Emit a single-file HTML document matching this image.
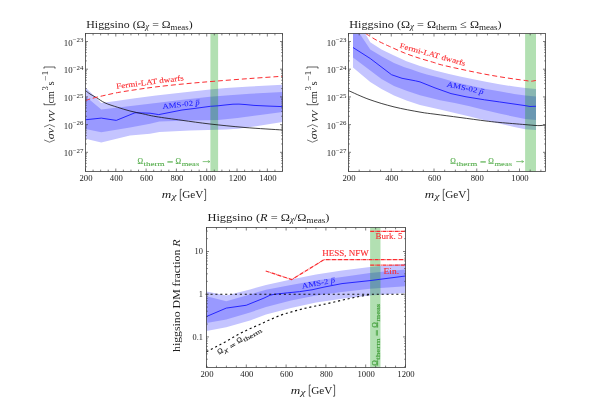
<!DOCTYPE html>
<html><head><meta charset="utf-8"><title>Higgsino plots</title>
<style>
html,body{margin:0;padding:0;background:#fff;}
body{width:607px;height:400px;overflow:hidden;font-family:"Liberation Serif",serif;}
svg{display:block;will-change:transform;}
svg text{font-family:"Liberation Serif",serif;}
</style></head>
<body>
<svg width="607" height="400" viewBox="0 0 607 400">
<rect width="607" height="400" fill="#fff"/>
<polygon points="85.50,87.50 101.25,102.90 116.00,100.90 135.00,98.30 156.00,95.60 185.00,92.20 210.00,89.40 226.00,88.10 250.00,86.60 282.50,84.75 282.50,121.90 256.00,126.25 237.50,128.75 226.00,129.40 190.00,130.60 159.40,131.90 150.00,133.75 130.00,135.60 101.25,142.50 85.50,138.75" fill="#c4c4ff"/>
<polygon points="85.50,96.25 101.25,109.60 116.00,107.80 135.00,105.40 156.00,103.10 185.00,99.60 210.00,96.80 226.00,95.60 250.00,93.80 282.50,91.90 282.50,112.00 260.00,115.00 237.50,118.00 218.00,120.00 190.00,120.50 159.40,121.40 150.00,123.75 130.00,127.50 101.25,132.25 85.50,129.00" fill="#9999ff"/>
<rect x="210.4" y="33.5" width="7.7" height="138.0" fill="rgba(0,153,0,0.3)"/>
<polyline points="85.50,119.75 101.25,118.10 116.25,120.40 135.00,112.75 150.00,113.20 158.75,114.60 182.00,110.00 194.00,108.50 210.50,106.30 218.00,105.80 226.00,104.90 233.00,104.20 239.00,104.10 246.00,104.60 254.00,105.40 269.00,106.10 282.50,106.60" fill="none" stroke="#1818ff" stroke-width="0.9" stroke-linejoin="round"/>
<path d="M85.50,90.60 C86.25,91.17 88.21,92.85 90.00,94.00 C91.79,95.15 93.75,96.02 96.25,97.50 C98.75,98.98 101.46,101.28 105.00,102.90 C108.54,104.53 113.33,105.90 117.50,107.25 C121.67,108.60 125.83,109.92 130.00,111.00 C134.17,112.08 138.17,112.82 142.50,113.75 C146.83,114.68 149.42,115.51 156.00,116.60 C162.58,117.69 173.00,119.07 182.00,120.30 C191.00,121.53 199.50,122.80 210.00,124.00 C220.50,125.20 232.92,126.50 245.00,127.50 C257.08,128.50 276.25,129.58 282.50,130.00" fill="none" stroke="#111" stroke-width="0.8" />
<path d="M85.50,100.60 C86.25,100.33 88.21,99.55 90.00,99.00 C91.79,98.45 93.75,97.92 96.25,97.30 C98.75,96.68 101.46,96.08 105.00,95.30 C108.54,94.52 112.50,93.52 117.50,92.60 C122.50,91.68 128.58,90.75 135.00,89.80 C141.42,88.85 147.67,87.90 156.00,86.90 C164.33,85.90 175.17,84.75 185.00,83.80 C194.83,82.85 204.17,82.08 215.00,81.20 C225.83,80.32 238.75,79.33 250.00,78.50 C261.25,77.67 277.08,76.62 282.50,76.25" fill="none" stroke="#fb2c30" stroke-width="1.0" stroke-dasharray="5,2.9" />
<rect x="85.5" y="33.5" width="197.0" height="138.0" fill="none" stroke="#404040" stroke-width="0.8"/>
<path d="M85.50,171.5v-3.0M85.50,33.5v3.0" stroke="#3a3a3a" stroke-width="0.65"/><path d="M93.08,171.5v-1.9M93.08,33.5v1.9" stroke="#3a3a3a" stroke-width="0.65"/><path d="M100.65,171.5v-1.9M100.65,33.5v1.9" stroke="#3a3a3a" stroke-width="0.65"/><path d="M108.23,171.5v-1.9M108.23,33.5v1.9" stroke="#3a3a3a" stroke-width="0.65"/><path d="M115.81,171.5v-3.0M115.81,33.5v3.0" stroke="#3a3a3a" stroke-width="0.65"/><path d="M123.39,171.5v-1.9M123.39,33.5v1.9" stroke="#3a3a3a" stroke-width="0.65"/><path d="M130.96,171.5v-1.9M130.96,33.5v1.9" stroke="#3a3a3a" stroke-width="0.65"/><path d="M138.54,171.5v-1.9M138.54,33.5v1.9" stroke="#3a3a3a" stroke-width="0.65"/><path d="M146.12,171.5v-3.0M146.12,33.5v3.0" stroke="#3a3a3a" stroke-width="0.65"/><path d="M153.69,171.5v-1.9M153.69,33.5v1.9" stroke="#3a3a3a" stroke-width="0.65"/><path d="M161.27,171.5v-1.9M161.27,33.5v1.9" stroke="#3a3a3a" stroke-width="0.65"/><path d="M168.85,171.5v-1.9M168.85,33.5v1.9" stroke="#3a3a3a" stroke-width="0.65"/><path d="M176.42,171.5v-3.0M176.42,33.5v3.0" stroke="#3a3a3a" stroke-width="0.65"/><path d="M184.00,171.5v-1.9M184.00,33.5v1.9" stroke="#3a3a3a" stroke-width="0.65"/><path d="M191.58,171.5v-1.9M191.58,33.5v1.9" stroke="#3a3a3a" stroke-width="0.65"/><path d="M199.16,171.5v-1.9M199.16,33.5v1.9" stroke="#3a3a3a" stroke-width="0.65"/><path d="M206.73,171.5v-3.0M206.73,33.5v3.0" stroke="#3a3a3a" stroke-width="0.65"/><path d="M214.31,171.5v-1.9M214.31,33.5v1.9" stroke="#3a3a3a" stroke-width="0.65"/><path d="M221.89,171.5v-1.9M221.89,33.5v1.9" stroke="#3a3a3a" stroke-width="0.65"/><path d="M229.46,171.5v-1.9M229.46,33.5v1.9" stroke="#3a3a3a" stroke-width="0.65"/><path d="M237.04,171.5v-3.0M237.04,33.5v3.0" stroke="#3a3a3a" stroke-width="0.65"/><path d="M244.62,171.5v-1.9M244.62,33.5v1.9" stroke="#3a3a3a" stroke-width="0.65"/><path d="M252.19,171.5v-1.9M252.19,33.5v1.9" stroke="#3a3a3a" stroke-width="0.65"/><path d="M259.77,171.5v-1.9M259.77,33.5v1.9" stroke="#3a3a3a" stroke-width="0.65"/><path d="M267.35,171.5v-3.0M267.35,33.5v3.0" stroke="#3a3a3a" stroke-width="0.65"/><path d="M274.93,171.5v-1.9M274.93,33.5v1.9" stroke="#3a3a3a" stroke-width="0.65"/><path d="M282.50,171.5v-1.9M282.50,33.5v1.9" stroke="#3a3a3a" stroke-width="0.65"/>
<path d="M85.5,166.78h1.3M282.5,166.78h-1.3" stroke="#3a3a3a" stroke-width="0.65"/><path d="M85.5,163.32h1.3M282.5,163.32h-1.3" stroke="#3a3a3a" stroke-width="0.65"/><path d="M85.5,160.64h1.3M282.5,160.64h-1.3" stroke="#3a3a3a" stroke-width="0.65"/><path d="M85.5,158.45h1.3M282.5,158.45h-1.3" stroke="#3a3a3a" stroke-width="0.65"/><path d="M85.5,156.59h1.3M282.5,156.59h-1.3" stroke="#3a3a3a" stroke-width="0.65"/><path d="M85.5,154.98h1.3M282.5,154.98h-1.3" stroke="#3a3a3a" stroke-width="0.65"/><path d="M85.5,153.57h1.3M282.5,153.57h-1.3" stroke="#3a3a3a" stroke-width="0.65"/><path d="M85.5,152.30h2.5M282.5,152.30h-2.5" stroke="#3a3a3a" stroke-width="0.65"/><path d="M85.5,143.96h1.3M282.5,143.96h-1.3" stroke="#3a3a3a" stroke-width="0.65"/><path d="M85.5,139.08h1.3M282.5,139.08h-1.3" stroke="#3a3a3a" stroke-width="0.65"/><path d="M85.5,135.62h1.3M282.5,135.62h-1.3" stroke="#3a3a3a" stroke-width="0.65"/><path d="M85.5,132.94h1.3M282.5,132.94h-1.3" stroke="#3a3a3a" stroke-width="0.65"/><path d="M85.5,130.75h1.3M282.5,130.75h-1.3" stroke="#3a3a3a" stroke-width="0.65"/><path d="M85.5,128.89h1.3M282.5,128.89h-1.3" stroke="#3a3a3a" stroke-width="0.65"/><path d="M85.5,127.28h1.3M282.5,127.28h-1.3" stroke="#3a3a3a" stroke-width="0.65"/><path d="M85.5,125.87h1.3M282.5,125.87h-1.3" stroke="#3a3a3a" stroke-width="0.65"/><path d="M85.5,124.60h2.5M282.5,124.60h-2.5" stroke="#3a3a3a" stroke-width="0.65"/><path d="M85.5,116.26h1.3M282.5,116.26h-1.3" stroke="#3a3a3a" stroke-width="0.65"/><path d="M85.5,111.38h1.3M282.5,111.38h-1.3" stroke="#3a3a3a" stroke-width="0.65"/><path d="M85.5,107.92h1.3M282.5,107.92h-1.3" stroke="#3a3a3a" stroke-width="0.65"/><path d="M85.5,105.24h1.3M282.5,105.24h-1.3" stroke="#3a3a3a" stroke-width="0.65"/><path d="M85.5,103.05h1.3M282.5,103.05h-1.3" stroke="#3a3a3a" stroke-width="0.65"/><path d="M85.5,101.19h1.3M282.5,101.19h-1.3" stroke="#3a3a3a" stroke-width="0.65"/><path d="M85.5,99.58h1.3M282.5,99.58h-1.3" stroke="#3a3a3a" stroke-width="0.65"/><path d="M85.5,98.17h1.3M282.5,98.17h-1.3" stroke="#3a3a3a" stroke-width="0.65"/><path d="M85.5,96.90h2.5M282.5,96.90h-2.5" stroke="#3a3a3a" stroke-width="0.65"/><path d="M85.5,88.56h1.3M282.5,88.56h-1.3" stroke="#3a3a3a" stroke-width="0.65"/><path d="M85.5,83.68h1.3M282.5,83.68h-1.3" stroke="#3a3a3a" stroke-width="0.65"/><path d="M85.5,80.22h1.3M282.5,80.22h-1.3" stroke="#3a3a3a" stroke-width="0.65"/><path d="M85.5,77.54h1.3M282.5,77.54h-1.3" stroke="#3a3a3a" stroke-width="0.65"/><path d="M85.5,75.35h1.3M282.5,75.35h-1.3" stroke="#3a3a3a" stroke-width="0.65"/><path d="M85.5,73.49h1.3M282.5,73.49h-1.3" stroke="#3a3a3a" stroke-width="0.65"/><path d="M85.5,71.88h1.3M282.5,71.88h-1.3" stroke="#3a3a3a" stroke-width="0.65"/><path d="M85.5,70.47h1.3M282.5,70.47h-1.3" stroke="#3a3a3a" stroke-width="0.65"/><path d="M85.5,69.20h2.5M282.5,69.20h-2.5" stroke="#3a3a3a" stroke-width="0.65"/><path d="M85.5,60.86h1.3M282.5,60.86h-1.3" stroke="#3a3a3a" stroke-width="0.65"/><path d="M85.5,55.98h1.3M282.5,55.98h-1.3" stroke="#3a3a3a" stroke-width="0.65"/><path d="M85.5,52.52h1.3M282.5,52.52h-1.3" stroke="#3a3a3a" stroke-width="0.65"/><path d="M85.5,49.84h1.3M282.5,49.84h-1.3" stroke="#3a3a3a" stroke-width="0.65"/><path d="M85.5,47.65h1.3M282.5,47.65h-1.3" stroke="#3a3a3a" stroke-width="0.65"/><path d="M85.5,45.79h1.3M282.5,45.79h-1.3" stroke="#3a3a3a" stroke-width="0.65"/><path d="M85.5,44.18h1.3M282.5,44.18h-1.3" stroke="#3a3a3a" stroke-width="0.65"/><path d="M85.5,42.77h1.3M282.5,42.77h-1.3" stroke="#3a3a3a" stroke-width="0.65"/><path d="M85.5,41.50h2.5M282.5,41.50h-2.5" stroke="#3a3a3a" stroke-width="0.65"/>
<text x="79.5" y="180.9" font-size="8.4" text-anchor="start" fill="#1c1c1c" textLength="12.99" lengthAdjust="spacingAndGlyphs">200</text>
<text x="109.81" y="180.9" font-size="8.4" text-anchor="start" fill="#1c1c1c" textLength="12.99" lengthAdjust="spacingAndGlyphs">400</text>
<text x="140.12" y="180.9" font-size="8.4" text-anchor="start" fill="#1c1c1c" textLength="12.99" lengthAdjust="spacingAndGlyphs">600</text>
<text x="170.43" y="180.9" font-size="8.4" text-anchor="start" fill="#1c1c1c" textLength="12.99" lengthAdjust="spacingAndGlyphs">800</text>
<text x="198.57" y="180.9" font-size="8.4" text-anchor="start" fill="#1c1c1c" textLength="17.32" lengthAdjust="spacingAndGlyphs">1000</text>
<text x="228.88" y="180.9" font-size="8.4" text-anchor="start" fill="#1c1c1c" textLength="17.32" lengthAdjust="spacingAndGlyphs">1200</text>
<text x="259.19" y="180.9" font-size="8.4" text-anchor="start" fill="#1c1c1c" textLength="17.32" lengthAdjust="spacingAndGlyphs">1400</text>
<text x="63.8" y="45.6" font-size="8.4" text-anchor="start" fill="#1c1c1c" textLength="19.6" lengthAdjust="spacingAndGlyphs">10<tspan dy="-3.3" font-size="6.5">&#8722;23</tspan><tspan dy="3.3" font-size="1">&#8203;</tspan></text><text x="63.8" y="73.3" font-size="8.4" text-anchor="start" fill="#1c1c1c" textLength="19.6" lengthAdjust="spacingAndGlyphs">10<tspan dy="-3.3" font-size="6.5">&#8722;24</tspan><tspan dy="3.3" font-size="1">&#8203;</tspan></text><text x="63.8" y="101.0" font-size="8.4" text-anchor="start" fill="#1c1c1c" textLength="19.6" lengthAdjust="spacingAndGlyphs">10<tspan dy="-3.3" font-size="6.5">&#8722;25</tspan><tspan dy="3.3" font-size="1">&#8203;</tspan></text><text x="63.8" y="128.7" font-size="8.4" text-anchor="start" fill="#1c1c1c" textLength="19.6" lengthAdjust="spacingAndGlyphs">10<tspan dy="-3.3" font-size="6.5">&#8722;26</tspan><tspan dy="3.3" font-size="1">&#8203;</tspan></text><text x="63.8" y="156.4" font-size="8.4" text-anchor="start" fill="#1c1c1c" textLength="19.6" lengthAdjust="spacingAndGlyphs">10<tspan dy="-3.3" font-size="6.5">&#8722;27</tspan><tspan dy="3.3" font-size="1">&#8203;</tspan></text><g transform="translate(53.5,142.6) rotate(-90)"><polyline points="2.7,-9.4 0.4,-4.0 2.7,1.4" fill="none" stroke="#1c1c1c" stroke-width="0.6"/><text x="3.4" y="0" font-size="10.8" text-anchor="start" fill="#1c1c1c" textLength="11.3" lengthAdjust="spacingAndGlyphs"><tspan font-style="italic">&#963;v</tspan></text><polyline points="15.7,-9.4 18.0,-4.0 15.7,1.4" fill="none" stroke="#1c1c1c" stroke-width="0.6"/><text x="20.3" y="1.1" font-size="7.4" text-anchor="start" fill="#1c1c1c" textLength="11.8" lengthAdjust="spacingAndGlyphs"><tspan font-style="italic">VV</tspan></text><path d="M39.6,-9.5H37.9V1.5H39.6" fill="none" stroke="#1c1c1c" stroke-width="0.7"/><text x="39.2" y="0" font-size="10.8" text-anchor="start" fill="#1c1c1c" textLength="12.3" lengthAdjust="spacingAndGlyphs">cm</text><text x="52.2" y="-5.2" font-size="7.8" text-anchor="start" fill="#1c1c1c" textLength="4.3" lengthAdjust="spacingAndGlyphs">3</text><text x="57.2" y="0" font-size="10.8" text-anchor="start" fill="#1c1c1c" textLength="4.1" lengthAdjust="spacingAndGlyphs">s</text><text x="61.7" y="-5.2" font-size="7.8" text-anchor="start" fill="#1c1c1c" textLength="10.2" lengthAdjust="spacingAndGlyphs">&#8722;1</text><path d="M73.9,-9.5H75.6V1.5H73.9" fill="none" stroke="#1c1c1c" stroke-width="0.7"/></g>
<g transform="translate(162.1,198.1)"><text x="-0.3" y="0" font-size="11" text-anchor="start" fill="#1c1c1c" textLength="9.5" lengthAdjust="spacingAndGlyphs"><tspan font-style="italic">m</tspan></text><text x="9.4" y="1.0" font-size="8.0" text-anchor="start" fill="#1c1c1c" textLength="5.0" lengthAdjust="spacingAndGlyphs"><tspan font-style="italic">&#967;</tspan></text><path d="M19.8,-8.8H18.2V2.4H19.8" fill="none" stroke="#1c1c1c" stroke-width="0.7"/><text x="20.1" y="0" font-size="11" text-anchor="start" fill="#1c1c1c" textLength="21.2" lengthAdjust="spacingAndGlyphs">GeV</text><path d="M41.9,-8.8H43.5V2.4H41.9" fill="none" stroke="#1c1c1c" stroke-width="0.7"/></g>
<text x="86.3" y="27.8" font-size="10.8" text-anchor="start" fill="#1c1c1c" textLength="106.3" lengthAdjust="spacingAndGlyphs">Higgsino (&#937;<tspan dy="0.9" font-size="8.0"><tspan font-style="italic">&#967;</tspan></tspan><tspan dy="-0.9" font-size="1">&#8203;</tspan> = &#937;<tspan dy="1.9" font-size="8.0">meas</tspan><tspan dy="-1.9" font-size="1">&#8203;</tspan>)</text>
<g transform="translate(137.7,163.7) rotate(0) scale(1.0)"><text x="-0.3" y="0" font-size="7.6" text-anchor="start" fill="#55ad4b" textLength="5.6" lengthAdjust="spacingAndGlyphs" stroke="#55ad4b" stroke-width="0.12">&#937;</text><text x="5.7" y="1.9" font-size="5.7" text-anchor="start" fill="#55ad4b" textLength="21.2" lengthAdjust="spacingAndGlyphs" stroke="#55ad4b" stroke-width="0.05">therm</text><text x="29.4" y="1.3" font-size="7.4" text-anchor="start" fill="#55ad4b" textLength="6.2" lengthAdjust="spacingAndGlyphs" stroke="#55ad4b" stroke-width="0.12">=</text><text x="37.7" y="0" font-size="7.6" text-anchor="start" fill="#55ad4b" textLength="5.6" lengthAdjust="spacingAndGlyphs" stroke="#55ad4b" stroke-width="0.12">&#937;</text><text x="44.0" y="1.9" font-size="5.7" text-anchor="start" fill="#55ad4b" textLength="17.5" lengthAdjust="spacingAndGlyphs" stroke="#55ad4b" stroke-width="0.05">meas</text></g>
<path d="M202.7,161.6H209.7" stroke="#55ad4b" stroke-width="0.7" fill="none"/><path d="M208.0,160.1Q208.6,161.29999999999998 210.0,161.6Q208.6,161.9 208.0,163.1" stroke="#55ad4b" stroke-width="0.6" fill="none"/>
<g transform="translate(162.8,109.0) rotate(-6.5)"><text x="0" y="0" font-size="7.5" text-anchor="start" fill="#1818ff" textLength="37.2" lengthAdjust="spacingAndGlyphs" stroke="#1818ff" stroke-width="0.05">AMS-02 <tspan font-style="italic">p</tspan></text><path d="M33.900000000000006,-4.8H37.5" stroke="#1818ff" stroke-width="0.55" fill="none"/></g>
<text x="116.6" y="88.8" font-size="7.6" text-anchor="start" fill="#fb2c30" textLength="67.9" lengthAdjust="spacingAndGlyphs" stroke="#fb2c30" stroke-width="0.1" transform="rotate(-7.2 116.6 88.8)">Fermi-LAT dwarfs</text>
<polygon points="353.00,33.50 365.25,33.50 370.25,42.30 381.50,49.40 394.00,55.60 406.50,61.30 420.00,65.90 435.00,70.40 449.00,74.00 460.00,76.60 469.70,78.60 484.50,81.60 499.30,84.20 514.20,86.60 525.30,87.90 536.00,89.10 536.00,129.90 525.30,129.20 514.20,127.00 499.30,123.60 484.50,120.20 469.70,116.60 454.80,113.00 440.00,109.50 420.00,105.00 406.50,100.60 394.00,95.60 381.50,88.90 370.25,82.00 353.00,67.50" fill="#c4c4ff"/>
<polygon points="353.00,33.50 359.60,33.50 370.25,49.40 381.50,56.25 394.00,63.10 404.50,67.30 411.00,69.30 419.30,72.20 426.80,74.60 440.00,77.80 454.80,82.00 469.70,85.60 484.50,88.70 499.30,91.30 514.20,93.90 525.30,95.40 536.00,96.40 536.00,119.90 525.30,118.90 514.20,116.70 499.30,113.60 484.50,110.00 469.70,106.20 454.80,102.90 440.00,100.20 420.00,95.20 406.50,90.80 394.00,86.10 381.50,78.90 370.25,70.60 353.00,57.50" fill="#9999ff"/>
<rect x="525.1" y="33.5" width="10.9" height="138.0" fill="rgba(0,153,0,0.3)"/>
<polyline points="353.00,47.50 370.25,58.50 391.50,74.70 402.00,78.30 415.30,80.80 420.00,81.90 435.00,87.90 451.00,93.60 466.00,96.80 484.50,99.80 499.30,101.90 525.00,105.60 530.00,106.50 536.00,106.25" fill="none" stroke="#1818ff" stroke-width="0.9" stroke-linejoin="round"/>
<path d="M348.50,90.60 C351.92,92.07 361.42,96.68 369.00,99.40 C376.58,102.12 385.50,104.78 394.00,106.90 C402.50,109.02 413.17,110.88 420.00,112.10 C426.83,113.32 428.33,113.30 435.00,114.20 C441.67,115.10 451.50,116.37 460.00,117.50 C468.50,118.63 479.33,120.17 486.00,121.00 C492.67,121.83 493.50,121.90 500.00,122.50 C506.50,123.10 519.00,124.10 525.00,124.60 C531.00,125.10 533.33,125.35 536.00,125.50 C538.67,125.65 539.42,125.58 541.00,125.50 C542.58,125.42 544.75,125.08 545.50,125.00" fill="none" stroke="#111" stroke-width="0.8" />
<path d="M365.60,33.50 C367.13,34.45 372.15,37.67 374.80,39.20 C377.45,40.73 379.02,41.48 381.50,42.70 C383.98,43.92 385.87,44.78 389.70,46.50 C393.53,48.22 399.57,51.05 404.50,53.00 C409.43,54.95 414.35,56.60 419.30,58.20 C424.25,59.80 430.75,61.55 434.20,62.60 C437.65,63.65 436.57,63.62 440.00,64.50 C443.43,65.38 449.85,66.80 454.80,67.90 C459.75,69.00 464.75,70.07 469.70,71.10 C474.65,72.13 479.57,73.17 484.50,74.10 C489.43,75.03 494.35,75.88 499.30,76.70 C504.25,77.52 509.87,78.37 514.20,79.00 C518.53,79.63 522.50,80.13 525.30,80.50 C528.10,80.87 529.22,81.22 531.00,81.20 C532.78,81.18 535.17,80.53 536.00,80.40" fill="none" stroke="#fb2c30" stroke-width="1.0" stroke-dasharray="5,2.9" />
<rect x="348.5" y="33.5" width="197.0" height="138.0" fill="none" stroke="#404040" stroke-width="0.8"/>
<path d="M348.50,171.5v-3.0M348.50,33.5v3.0" stroke="#3a3a3a" stroke-width="0.65"/><path d="M359.19,171.5v-1.9M359.19,33.5v1.9" stroke="#3a3a3a" stroke-width="0.65"/><path d="M369.88,171.5v-1.9M369.88,33.5v1.9" stroke="#3a3a3a" stroke-width="0.65"/><path d="M380.56,171.5v-1.9M380.56,33.5v1.9" stroke="#3a3a3a" stroke-width="0.65"/><path d="M391.25,171.5v-3.0M391.25,33.5v3.0" stroke="#3a3a3a" stroke-width="0.65"/><path d="M401.94,171.5v-1.9M401.94,33.5v1.9" stroke="#3a3a3a" stroke-width="0.65"/><path d="M412.62,171.5v-1.9M412.62,33.5v1.9" stroke="#3a3a3a" stroke-width="0.65"/><path d="M423.31,171.5v-1.9M423.31,33.5v1.9" stroke="#3a3a3a" stroke-width="0.65"/><path d="M434.00,171.5v-3.0M434.00,33.5v3.0" stroke="#3a3a3a" stroke-width="0.65"/><path d="M444.69,171.5v-1.9M444.69,33.5v1.9" stroke="#3a3a3a" stroke-width="0.65"/><path d="M455.38,171.5v-1.9M455.38,33.5v1.9" stroke="#3a3a3a" stroke-width="0.65"/><path d="M466.06,171.5v-1.9M466.06,33.5v1.9" stroke="#3a3a3a" stroke-width="0.65"/><path d="M476.75,171.5v-3.0M476.75,33.5v3.0" stroke="#3a3a3a" stroke-width="0.65"/><path d="M487.44,171.5v-1.9M487.44,33.5v1.9" stroke="#3a3a3a" stroke-width="0.65"/><path d="M498.12,171.5v-1.9M498.12,33.5v1.9" stroke="#3a3a3a" stroke-width="0.65"/><path d="M508.81,171.5v-1.9M508.81,33.5v1.9" stroke="#3a3a3a" stroke-width="0.65"/><path d="M519.50,171.5v-3.0M519.50,33.5v3.0" stroke="#3a3a3a" stroke-width="0.65"/><path d="M530.19,171.5v-1.9M530.19,33.5v1.9" stroke="#3a3a3a" stroke-width="0.65"/><path d="M540.88,171.5v-1.9M540.88,33.5v1.9" stroke="#3a3a3a" stroke-width="0.65"/>
<path d="M348.5,166.78h1.3M545.5,166.78h-1.3" stroke="#3a3a3a" stroke-width="0.65"/><path d="M348.5,163.32h1.3M545.5,163.32h-1.3" stroke="#3a3a3a" stroke-width="0.65"/><path d="M348.5,160.64h1.3M545.5,160.64h-1.3" stroke="#3a3a3a" stroke-width="0.65"/><path d="M348.5,158.45h1.3M545.5,158.45h-1.3" stroke="#3a3a3a" stroke-width="0.65"/><path d="M348.5,156.59h1.3M545.5,156.59h-1.3" stroke="#3a3a3a" stroke-width="0.65"/><path d="M348.5,154.98h1.3M545.5,154.98h-1.3" stroke="#3a3a3a" stroke-width="0.65"/><path d="M348.5,153.57h1.3M545.5,153.57h-1.3" stroke="#3a3a3a" stroke-width="0.65"/><path d="M348.5,152.30h2.5M545.5,152.30h-2.5" stroke="#3a3a3a" stroke-width="0.65"/><path d="M348.5,143.96h1.3M545.5,143.96h-1.3" stroke="#3a3a3a" stroke-width="0.65"/><path d="M348.5,139.08h1.3M545.5,139.08h-1.3" stroke="#3a3a3a" stroke-width="0.65"/><path d="M348.5,135.62h1.3M545.5,135.62h-1.3" stroke="#3a3a3a" stroke-width="0.65"/><path d="M348.5,132.94h1.3M545.5,132.94h-1.3" stroke="#3a3a3a" stroke-width="0.65"/><path d="M348.5,130.75h1.3M545.5,130.75h-1.3" stroke="#3a3a3a" stroke-width="0.65"/><path d="M348.5,128.89h1.3M545.5,128.89h-1.3" stroke="#3a3a3a" stroke-width="0.65"/><path d="M348.5,127.28h1.3M545.5,127.28h-1.3" stroke="#3a3a3a" stroke-width="0.65"/><path d="M348.5,125.87h1.3M545.5,125.87h-1.3" stroke="#3a3a3a" stroke-width="0.65"/><path d="M348.5,124.60h2.5M545.5,124.60h-2.5" stroke="#3a3a3a" stroke-width="0.65"/><path d="M348.5,116.26h1.3M545.5,116.26h-1.3" stroke="#3a3a3a" stroke-width="0.65"/><path d="M348.5,111.38h1.3M545.5,111.38h-1.3" stroke="#3a3a3a" stroke-width="0.65"/><path d="M348.5,107.92h1.3M545.5,107.92h-1.3" stroke="#3a3a3a" stroke-width="0.65"/><path d="M348.5,105.24h1.3M545.5,105.24h-1.3" stroke="#3a3a3a" stroke-width="0.65"/><path d="M348.5,103.05h1.3M545.5,103.05h-1.3" stroke="#3a3a3a" stroke-width="0.65"/><path d="M348.5,101.19h1.3M545.5,101.19h-1.3" stroke="#3a3a3a" stroke-width="0.65"/><path d="M348.5,99.58h1.3M545.5,99.58h-1.3" stroke="#3a3a3a" stroke-width="0.65"/><path d="M348.5,98.17h1.3M545.5,98.17h-1.3" stroke="#3a3a3a" stroke-width="0.65"/><path d="M348.5,96.90h2.5M545.5,96.90h-2.5" stroke="#3a3a3a" stroke-width="0.65"/><path d="M348.5,88.56h1.3M545.5,88.56h-1.3" stroke="#3a3a3a" stroke-width="0.65"/><path d="M348.5,83.68h1.3M545.5,83.68h-1.3" stroke="#3a3a3a" stroke-width="0.65"/><path d="M348.5,80.22h1.3M545.5,80.22h-1.3" stroke="#3a3a3a" stroke-width="0.65"/><path d="M348.5,77.54h1.3M545.5,77.54h-1.3" stroke="#3a3a3a" stroke-width="0.65"/><path d="M348.5,75.35h1.3M545.5,75.35h-1.3" stroke="#3a3a3a" stroke-width="0.65"/><path d="M348.5,73.49h1.3M545.5,73.49h-1.3" stroke="#3a3a3a" stroke-width="0.65"/><path d="M348.5,71.88h1.3M545.5,71.88h-1.3" stroke="#3a3a3a" stroke-width="0.65"/><path d="M348.5,70.47h1.3M545.5,70.47h-1.3" stroke="#3a3a3a" stroke-width="0.65"/><path d="M348.5,69.20h2.5M545.5,69.20h-2.5" stroke="#3a3a3a" stroke-width="0.65"/><path d="M348.5,60.86h1.3M545.5,60.86h-1.3" stroke="#3a3a3a" stroke-width="0.65"/><path d="M348.5,55.98h1.3M545.5,55.98h-1.3" stroke="#3a3a3a" stroke-width="0.65"/><path d="M348.5,52.52h1.3M545.5,52.52h-1.3" stroke="#3a3a3a" stroke-width="0.65"/><path d="M348.5,49.84h1.3M545.5,49.84h-1.3" stroke="#3a3a3a" stroke-width="0.65"/><path d="M348.5,47.65h1.3M545.5,47.65h-1.3" stroke="#3a3a3a" stroke-width="0.65"/><path d="M348.5,45.79h1.3M545.5,45.79h-1.3" stroke="#3a3a3a" stroke-width="0.65"/><path d="M348.5,44.18h1.3M545.5,44.18h-1.3" stroke="#3a3a3a" stroke-width="0.65"/><path d="M348.5,42.77h1.3M545.5,42.77h-1.3" stroke="#3a3a3a" stroke-width="0.65"/><path d="M348.5,41.50h2.5M545.5,41.50h-2.5" stroke="#3a3a3a" stroke-width="0.65"/>
<text x="342.5" y="180.9" font-size="8.4" text-anchor="start" fill="#1c1c1c" textLength="12.99" lengthAdjust="spacingAndGlyphs">200</text>
<text x="385.25" y="180.9" font-size="8.4" text-anchor="start" fill="#1c1c1c" textLength="12.99" lengthAdjust="spacingAndGlyphs">400</text>
<text x="428.0" y="180.9" font-size="8.4" text-anchor="start" fill="#1c1c1c" textLength="12.99" lengthAdjust="spacingAndGlyphs">600</text>
<text x="470.75" y="180.9" font-size="8.4" text-anchor="start" fill="#1c1c1c" textLength="12.99" lengthAdjust="spacingAndGlyphs">800</text>
<text x="511.34" y="180.9" font-size="8.4" text-anchor="start" fill="#1c1c1c" textLength="17.32" lengthAdjust="spacingAndGlyphs">1000</text>
<text x="326.8" y="45.6" font-size="8.4" text-anchor="start" fill="#1c1c1c" textLength="19.6" lengthAdjust="spacingAndGlyphs">10<tspan dy="-3.3" font-size="6.5">&#8722;23</tspan><tspan dy="3.3" font-size="1">&#8203;</tspan></text><text x="326.8" y="73.3" font-size="8.4" text-anchor="start" fill="#1c1c1c" textLength="19.6" lengthAdjust="spacingAndGlyphs">10<tspan dy="-3.3" font-size="6.5">&#8722;24</tspan><tspan dy="3.3" font-size="1">&#8203;</tspan></text><text x="326.8" y="101.0" font-size="8.4" text-anchor="start" fill="#1c1c1c" textLength="19.6" lengthAdjust="spacingAndGlyphs">10<tspan dy="-3.3" font-size="6.5">&#8722;25</tspan><tspan dy="3.3" font-size="1">&#8203;</tspan></text><text x="326.8" y="128.7" font-size="8.4" text-anchor="start" fill="#1c1c1c" textLength="19.6" lengthAdjust="spacingAndGlyphs">10<tspan dy="-3.3" font-size="6.5">&#8722;26</tspan><tspan dy="3.3" font-size="1">&#8203;</tspan></text><text x="326.8" y="156.4" font-size="8.4" text-anchor="start" fill="#1c1c1c" textLength="19.6" lengthAdjust="spacingAndGlyphs">10<tspan dy="-3.3" font-size="6.5">&#8722;27</tspan><tspan dy="3.3" font-size="1">&#8203;</tspan></text><g transform="translate(316.5,142.6) rotate(-90)"><polyline points="2.7,-9.4 0.4,-4.0 2.7,1.4" fill="none" stroke="#1c1c1c" stroke-width="0.6"/><text x="3.4" y="0" font-size="10.8" text-anchor="start" fill="#1c1c1c" textLength="11.3" lengthAdjust="spacingAndGlyphs"><tspan font-style="italic">&#963;v</tspan></text><polyline points="15.7,-9.4 18.0,-4.0 15.7,1.4" fill="none" stroke="#1c1c1c" stroke-width="0.6"/><text x="20.3" y="1.1" font-size="7.4" text-anchor="start" fill="#1c1c1c" textLength="11.8" lengthAdjust="spacingAndGlyphs"><tspan font-style="italic">VV</tspan></text><path d="M39.6,-9.5H37.9V1.5H39.6" fill="none" stroke="#1c1c1c" stroke-width="0.7"/><text x="39.2" y="0" font-size="10.8" text-anchor="start" fill="#1c1c1c" textLength="12.3" lengthAdjust="spacingAndGlyphs">cm</text><text x="52.2" y="-5.2" font-size="7.8" text-anchor="start" fill="#1c1c1c" textLength="4.3" lengthAdjust="spacingAndGlyphs">3</text><text x="57.2" y="0" font-size="10.8" text-anchor="start" fill="#1c1c1c" textLength="4.1" lengthAdjust="spacingAndGlyphs">s</text><text x="61.7" y="-5.2" font-size="7.8" text-anchor="start" fill="#1c1c1c" textLength="10.2" lengthAdjust="spacingAndGlyphs">&#8722;1</text><path d="M73.9,-9.5H75.6V1.5H73.9" fill="none" stroke="#1c1c1c" stroke-width="0.7"/></g>
<g transform="translate(425.1,198.1)"><text x="-0.3" y="0" font-size="11" text-anchor="start" fill="#1c1c1c" textLength="9.5" lengthAdjust="spacingAndGlyphs"><tspan font-style="italic">m</tspan></text><text x="9.4" y="1.0" font-size="8.0" text-anchor="start" fill="#1c1c1c" textLength="5.0" lengthAdjust="spacingAndGlyphs"><tspan font-style="italic">&#967;</tspan></text><path d="M19.8,-8.8H18.2V2.4H19.8" fill="none" stroke="#1c1c1c" stroke-width="0.7"/><text x="20.1" y="0" font-size="11" text-anchor="start" fill="#1c1c1c" textLength="21.2" lengthAdjust="spacingAndGlyphs">GeV</text><path d="M41.9,-8.8H43.5V2.4H41.9" fill="none" stroke="#1c1c1c" stroke-width="0.7"/></g>
<text x="349.3" y="27.8" font-size="10.8" text-anchor="start" fill="#1c1c1c" textLength="152.3" lengthAdjust="spacingAndGlyphs">Higgsino (&#937;<tspan dy="0.9" font-size="8.0"><tspan font-style="italic">&#967;</tspan></tspan><tspan dy="-0.9" font-size="1">&#8203;</tspan> = &#937;<tspan dy="1.9" font-size="8.0">therm</tspan><tspan dy="-1.9" font-size="1">&#8203;</tspan> &#8804; &#937;<tspan dy="1.9" font-size="8.0">meas</tspan><tspan dy="-1.9" font-size="1">&#8203;</tspan>)</text>
<g transform="translate(450.5,163.7) rotate(0) scale(1.0)"><text x="-0.3" y="0" font-size="7.6" text-anchor="start" fill="#55ad4b" textLength="5.6" lengthAdjust="spacingAndGlyphs" stroke="#55ad4b" stroke-width="0.12">&#937;</text><text x="5.7" y="1.9" font-size="5.7" text-anchor="start" fill="#55ad4b" textLength="21.2" lengthAdjust="spacingAndGlyphs" stroke="#55ad4b" stroke-width="0.05">therm</text><text x="29.4" y="1.3" font-size="7.4" text-anchor="start" fill="#55ad4b" textLength="6.2" lengthAdjust="spacingAndGlyphs" stroke="#55ad4b" stroke-width="0.12">=</text><text x="37.7" y="0" font-size="7.6" text-anchor="start" fill="#55ad4b" textLength="5.6" lengthAdjust="spacingAndGlyphs" stroke="#55ad4b" stroke-width="0.12">&#937;</text><text x="44.0" y="1.9" font-size="5.7" text-anchor="start" fill="#55ad4b" textLength="17.5" lengthAdjust="spacingAndGlyphs" stroke="#55ad4b" stroke-width="0.05">meas</text></g>
<path d="M516.2,161.6H523.4000000000001" stroke="#55ad4b" stroke-width="0.7" fill="none"/><path d="M521.7,160.1Q522.3000000000001,161.29999999999998 523.7,161.6Q522.3000000000001,161.9 521.7,163.1" stroke="#55ad4b" stroke-width="0.6" fill="none"/>
<g transform="translate(446.5,86.5) rotate(12)"><text x="0" y="0" font-size="7.5" text-anchor="start" fill="#1818ff" textLength="37.5" lengthAdjust="spacingAndGlyphs" stroke="#1818ff" stroke-width="0.05">AMS-02 <tspan font-style="italic">p</tspan></text><path d="M34.2,-4.8H37.8" stroke="#1818ff" stroke-width="0.55" fill="none"/></g>
<text x="399.2" y="47.8" font-size="7.6" text-anchor="start" fill="#fb2c30" textLength="68" lengthAdjust="spacingAndGlyphs" stroke="#fb2c30" stroke-width="0.1" transform="rotate(15.5 399.2 47.8)">Fermi-LAT dwarfs</text>
<polygon points="206.50,291.40 226.25,295.40 250.00,289.40 266.00,285.00 291.00,279.40 316.00,274.40 342.00,270.40 370.00,266.90 405.50,263.75 405.50,293.00 370.00,295.60 342.00,298.75 316.00,302.50 291.00,308.10 266.00,314.40 250.00,320.60 226.25,327.25 206.50,331.00" fill="#c4c4ff"/>
<polygon points="206.50,296.25 226.25,301.25 250.00,294.40 266.00,289.80 291.00,285.00 316.00,280.60 342.00,276.90 370.00,273.10 405.50,269.40 405.50,286.25 370.00,288.75 342.00,292.00 316.00,295.60 291.00,300.60 266.00,306.90 250.00,312.50 226.25,319.40 206.50,323.10" fill="#9999ff"/>
<rect x="370.1" y="227.5" width="10.4" height="140.0" fill="rgba(0,153,0,0.3)"/>
<polyline points="206.50,316.50 226.25,308.10 246.25,305.25 264.00,298.10 270.00,295.20 274.30,294.30 287.70,292.80 299.60,291.65 312.00,289.80 324.00,287.10 342.00,283.60 370.00,280.60 405.50,276.00" fill="none" stroke="#1818ff" stroke-width="0.9" stroke-linejoin="round"/>
<path d="M205.6,294.2H405.5" stroke="#111" stroke-width="1.15" stroke-dasharray="2.1,2.79"/>
<path d="M206.50,351.80 C208.17,350.93 213.07,348.42 216.50,346.60 C219.93,344.78 223.58,342.87 227.10,340.90 C230.62,338.93 234.08,336.70 237.60,334.80 C241.12,332.90 244.68,331.15 248.20,329.50 C251.72,327.85 255.18,326.48 258.70,324.90 C262.22,323.32 265.57,321.63 269.30,320.00 C273.03,318.37 277.38,316.45 281.10,315.10 C284.82,313.75 288.08,312.92 291.60,311.90 C295.12,310.88 298.68,309.88 302.20,309.00 C305.72,308.12 309.18,307.35 312.70,306.60 C316.22,305.85 318.42,305.57 323.30,304.50 C328.18,303.43 336.83,301.37 342.00,300.20 C347.17,299.03 350.97,298.20 354.30,297.50 C357.63,296.80 359.43,296.50 362.00,296.00 C364.57,295.50 368.42,294.75 369.70,294.50" fill="none" stroke="#111" stroke-width="1.15" stroke-dasharray="2.1,2.79" />
<polyline points="265.70,271.00 291.80,279.60 323.90,259.70 405.50,259.70" fill="none" stroke="#fb2c30" stroke-width="1.2" stroke-dasharray="4.1,0.65,0.7,0.65" stroke-linejoin="round"/>
<path d="M370.2,231.4H405.9" stroke="#fb2c30" stroke-width="1.25" stroke-dasharray="4.1,0.65,0.7,0.65"/>
<path d="M370.2,265.2H405.9" stroke="#fb2c30" stroke-width="1.25" stroke-dasharray="4.1,0.65,0.7,0.65"/>
<rect x="206.5" y="227.5" width="199.0" height="140.0" fill="none" stroke="#404040" stroke-width="0.8"/>
<path d="M206.50,367.5v-3.0M206.50,227.5v3.0" stroke="#3a3a3a" stroke-width="0.65"/><path d="M216.45,367.5v-1.9M216.45,227.5v1.9" stroke="#3a3a3a" stroke-width="0.65"/><path d="M226.40,367.5v-1.9M226.40,227.5v1.9" stroke="#3a3a3a" stroke-width="0.65"/><path d="M236.35,367.5v-1.9M236.35,227.5v1.9" stroke="#3a3a3a" stroke-width="0.65"/><path d="M246.30,367.5v-3.0M246.30,227.5v3.0" stroke="#3a3a3a" stroke-width="0.65"/><path d="M256.25,367.5v-1.9M256.25,227.5v1.9" stroke="#3a3a3a" stroke-width="0.65"/><path d="M266.20,367.5v-1.9M266.20,227.5v1.9" stroke="#3a3a3a" stroke-width="0.65"/><path d="M276.15,367.5v-1.9M276.15,227.5v1.9" stroke="#3a3a3a" stroke-width="0.65"/><path d="M286.10,367.5v-3.0M286.10,227.5v3.0" stroke="#3a3a3a" stroke-width="0.65"/><path d="M296.05,367.5v-1.9M296.05,227.5v1.9" stroke="#3a3a3a" stroke-width="0.65"/><path d="M306.00,367.5v-1.9M306.00,227.5v1.9" stroke="#3a3a3a" stroke-width="0.65"/><path d="M315.95,367.5v-1.9M315.95,227.5v1.9" stroke="#3a3a3a" stroke-width="0.65"/><path d="M325.90,367.5v-3.0M325.90,227.5v3.0" stroke="#3a3a3a" stroke-width="0.65"/><path d="M335.85,367.5v-1.9M335.85,227.5v1.9" stroke="#3a3a3a" stroke-width="0.65"/><path d="M345.80,367.5v-1.9M345.80,227.5v1.9" stroke="#3a3a3a" stroke-width="0.65"/><path d="M355.75,367.5v-1.9M355.75,227.5v1.9" stroke="#3a3a3a" stroke-width="0.65"/><path d="M365.70,367.5v-3.0M365.70,227.5v3.0" stroke="#3a3a3a" stroke-width="0.65"/><path d="M375.65,367.5v-1.9M375.65,227.5v1.9" stroke="#3a3a3a" stroke-width="0.65"/><path d="M385.60,367.5v-1.9M385.60,227.5v1.9" stroke="#3a3a3a" stroke-width="0.65"/><path d="M395.55,367.5v-1.9M395.55,227.5v1.9" stroke="#3a3a3a" stroke-width="0.65"/><path d="M405.50,367.5v-3.0M405.50,227.5v3.0" stroke="#3a3a3a" stroke-width="0.65"/>
<path d="M206.5,366.75h1.3M405.5,366.75h-1.3" stroke="#3a3a3a" stroke-width="0.65"/><path d="M206.5,359.23h1.3M405.5,359.23h-1.3" stroke="#3a3a3a" stroke-width="0.65"/><path d="M206.5,353.89h1.3M405.5,353.89h-1.3" stroke="#3a3a3a" stroke-width="0.65"/><path d="M206.5,349.75h1.3M405.5,349.75h-1.3" stroke="#3a3a3a" stroke-width="0.65"/><path d="M206.5,346.37h1.3M405.5,346.37h-1.3" stroke="#3a3a3a" stroke-width="0.65"/><path d="M206.5,343.51h1.3M405.5,343.51h-1.3" stroke="#3a3a3a" stroke-width="0.65"/><path d="M206.5,341.04h1.3M405.5,341.04h-1.3" stroke="#3a3a3a" stroke-width="0.65"/><path d="M206.5,338.85h1.3M405.5,338.85h-1.3" stroke="#3a3a3a" stroke-width="0.65"/><path d="M206.5,336.90h2.5M405.5,336.90h-2.5" stroke="#3a3a3a" stroke-width="0.65"/><path d="M206.5,324.05h1.3M405.5,324.05h-1.3" stroke="#3a3a3a" stroke-width="0.65"/><path d="M206.5,316.53h1.3M405.5,316.53h-1.3" stroke="#3a3a3a" stroke-width="0.65"/><path d="M206.5,311.19h1.3M405.5,311.19h-1.3" stroke="#3a3a3a" stroke-width="0.65"/><path d="M206.5,307.05h1.3M405.5,307.05h-1.3" stroke="#3a3a3a" stroke-width="0.65"/><path d="M206.5,303.67h1.3M405.5,303.67h-1.3" stroke="#3a3a3a" stroke-width="0.65"/><path d="M206.5,300.81h1.3M405.5,300.81h-1.3" stroke="#3a3a3a" stroke-width="0.65"/><path d="M206.5,298.34h1.3M405.5,298.34h-1.3" stroke="#3a3a3a" stroke-width="0.65"/><path d="M206.5,296.15h1.3M405.5,296.15h-1.3" stroke="#3a3a3a" stroke-width="0.65"/><path d="M206.5,294.20h2.5M405.5,294.20h-2.5" stroke="#3a3a3a" stroke-width="0.65"/><path d="M206.5,281.35h1.3M405.5,281.35h-1.3" stroke="#3a3a3a" stroke-width="0.65"/><path d="M206.5,273.83h1.3M405.5,273.83h-1.3" stroke="#3a3a3a" stroke-width="0.65"/><path d="M206.5,268.49h1.3M405.5,268.49h-1.3" stroke="#3a3a3a" stroke-width="0.65"/><path d="M206.5,264.35h1.3M405.5,264.35h-1.3" stroke="#3a3a3a" stroke-width="0.65"/><path d="M206.5,260.97h1.3M405.5,260.97h-1.3" stroke="#3a3a3a" stroke-width="0.65"/><path d="M206.5,258.11h1.3M405.5,258.11h-1.3" stroke="#3a3a3a" stroke-width="0.65"/><path d="M206.5,255.64h1.3M405.5,255.64h-1.3" stroke="#3a3a3a" stroke-width="0.65"/><path d="M206.5,253.45h1.3M405.5,253.45h-1.3" stroke="#3a3a3a" stroke-width="0.65"/><path d="M206.5,251.50h2.5M405.5,251.50h-2.5" stroke="#3a3a3a" stroke-width="0.65"/><path d="M206.5,238.65h1.3M405.5,238.65h-1.3" stroke="#3a3a3a" stroke-width="0.65"/><path d="M206.5,231.13h1.3M405.5,231.13h-1.3" stroke="#3a3a3a" stroke-width="0.65"/>
<text x="200.5" y="376.6" font-size="8.4" text-anchor="start" fill="#1c1c1c" textLength="12.99" lengthAdjust="spacingAndGlyphs">200</text>
<text x="240.31" y="376.6" font-size="8.4" text-anchor="start" fill="#1c1c1c" textLength="12.99" lengthAdjust="spacingAndGlyphs">400</text>
<text x="280.11" y="376.6" font-size="8.4" text-anchor="start" fill="#1c1c1c" textLength="12.99" lengthAdjust="spacingAndGlyphs">600</text>
<text x="319.9" y="376.6" font-size="8.4" text-anchor="start" fill="#1c1c1c" textLength="12.99" lengthAdjust="spacingAndGlyphs">800</text>
<text x="357.54" y="376.6" font-size="8.4" text-anchor="start" fill="#1c1c1c" textLength="17.32" lengthAdjust="spacingAndGlyphs">1000</text>
<text x="397.34" y="376.6" font-size="8.4" text-anchor="start" fill="#1c1c1c" textLength="17.32" lengthAdjust="spacingAndGlyphs">1200</text>
<text x="194.6" y="253.9" font-size="8.4" text-anchor="start" fill="#1c1c1c" textLength="8.4" lengthAdjust="spacingAndGlyphs">10</text>
<text x="198.8" y="296.8" font-size="8.4" text-anchor="start" fill="#1c1c1c" textLength="4.2" lengthAdjust="spacingAndGlyphs">1</text>
<text x="192.6" y="339.7" font-size="8.4" text-anchor="start" fill="#1c1c1c" textLength="10.4" lengthAdjust="spacingAndGlyphs">0.1</text>
<g transform="translate(291.1,393.8)"><text x="-0.3" y="0" font-size="11" text-anchor="start" fill="#1c1c1c" textLength="9.5" lengthAdjust="spacingAndGlyphs"><tspan font-style="italic">m</tspan></text><text x="9.4" y="1.0" font-size="8.0" text-anchor="start" fill="#1c1c1c" textLength="5.0" lengthAdjust="spacingAndGlyphs"><tspan font-style="italic">&#967;</tspan></text><path d="M19.8,-8.8H18.2V2.4H19.8" fill="none" stroke="#1c1c1c" stroke-width="0.7"/><text x="20.1" y="0" font-size="11" text-anchor="start" fill="#1c1c1c" textLength="21.2" lengthAdjust="spacingAndGlyphs">GeV</text><path d="M41.9,-8.8H43.5V2.4H41.9" fill="none" stroke="#1c1c1c" stroke-width="0.7"/></g>
<text x="207.5" y="221.4" font-size="10.8" text-anchor="start" fill="#1c1c1c" textLength="122.0" lengthAdjust="spacingAndGlyphs">Higgsino (<tspan font-style="italic">R</tspan> = &#937;<tspan dy="0.9" font-size="8.0"><tspan font-style="italic">&#967;</tspan></tspan><tspan dy="-0.9" font-size="1">&#8203;</tspan>/&#937;<tspan dy="1.9" font-size="8.0">meas</tspan><tspan dy="-1.9" font-size="1">&#8203;</tspan>)</text>
<text x="180.0" y="352.0" font-size="10.8" text-anchor="start" fill="#1c1c1c" textLength="112.5" lengthAdjust="spacingAndGlyphs" transform="rotate(-90 180.0 352.0)">higgsino DM fraction <tspan font-style="italic">R</tspan></text>
<g transform="translate(378.2,365.4) rotate(-90) scale(1.0)"><text x="-0.3" y="0" font-size="7.6" text-anchor="start" fill="#45a03d" textLength="5.6" lengthAdjust="spacingAndGlyphs" stroke="#45a03d" stroke-width="0.24">&#937;</text><text x="5.7" y="1.9" font-size="5.7" text-anchor="start" fill="#45a03d" textLength="21.2" lengthAdjust="spacingAndGlyphs" stroke="#45a03d" stroke-width="0.16999999999999998">therm</text><text x="29.4" y="1.3" font-size="7.4" text-anchor="start" fill="#45a03d" textLength="6.2" lengthAdjust="spacingAndGlyphs" stroke="#45a03d" stroke-width="0.24">=</text><text x="37.7" y="0" font-size="7.6" text-anchor="start" fill="#45a03d" textLength="5.6" lengthAdjust="spacingAndGlyphs" stroke="#45a03d" stroke-width="0.24">&#937;</text><text x="44.0" y="1.9" font-size="5.7" text-anchor="start" fill="#45a03d" textLength="17.5" lengthAdjust="spacingAndGlyphs" stroke="#45a03d" stroke-width="0.16999999999999998">meas</text></g>
<g transform="translate(302.3,288.4) rotate(-10)"><text x="0" y="0" font-size="7.5" text-anchor="start" fill="#1818ff" textLength="33.5" lengthAdjust="spacingAndGlyphs" stroke="#1818ff" stroke-width="0.05">AMS-2 <tspan font-style="italic">p</tspan></text><path d="M30.2,-4.8H33.8" stroke="#1818ff" stroke-width="0.55" fill="none"/></g>
<text x="322.2" y="256.1" font-size="7.4" text-anchor="start" fill="#fb2c30" textLength="46.6" lengthAdjust="spacingAndGlyphs" stroke="#fb2c30" stroke-width="0.1">HESS, NFW</text>
<text x="375.6" y="238.7" font-size="7.4" text-anchor="start" fill="#fb2c30" textLength="27.0" lengthAdjust="spacingAndGlyphs" stroke="#fb2c30" stroke-width="0.1">Burk. 5</text>
<text x="383.6" y="273.9" font-size="7.4" text-anchor="start" fill="#fb2c30" textLength="15.4" lengthAdjust="spacingAndGlyphs" stroke="#fb2c30" stroke-width="0.1">Ein.</text>
<g transform="translate(219.3,354.6) rotate(-30)"><text x="-0.4" y="0" font-size="7.8" text-anchor="start" fill="#222" textLength="5.6" lengthAdjust="spacingAndGlyphs" stroke="#222" stroke-width="0.12">&#937;</text><text x="5.8" y="1.2" font-size="5.8" text-anchor="start" fill="#222" textLength="4.3" lengthAdjust="spacingAndGlyphs" stroke="#222" stroke-width="0.1"><tspan font-style="italic">&#967;</tspan></text><text x="13.0" y="1.3" font-size="7.4" text-anchor="start" fill="#222" textLength="6.0" lengthAdjust="spacingAndGlyphs" stroke="#222" stroke-width="0.1">=</text><text x="21.8" y="0" font-size="7.8" text-anchor="start" fill="#222" textLength="5.6" lengthAdjust="spacingAndGlyphs" stroke="#222" stroke-width="0.12">&#937;</text><text x="28.2" y="1.8" font-size="5.8" text-anchor="start" fill="#222" textLength="20.6" lengthAdjust="spacingAndGlyphs" stroke="#222" stroke-width="0.1">therm</text></g>
</svg>
</body></html>
